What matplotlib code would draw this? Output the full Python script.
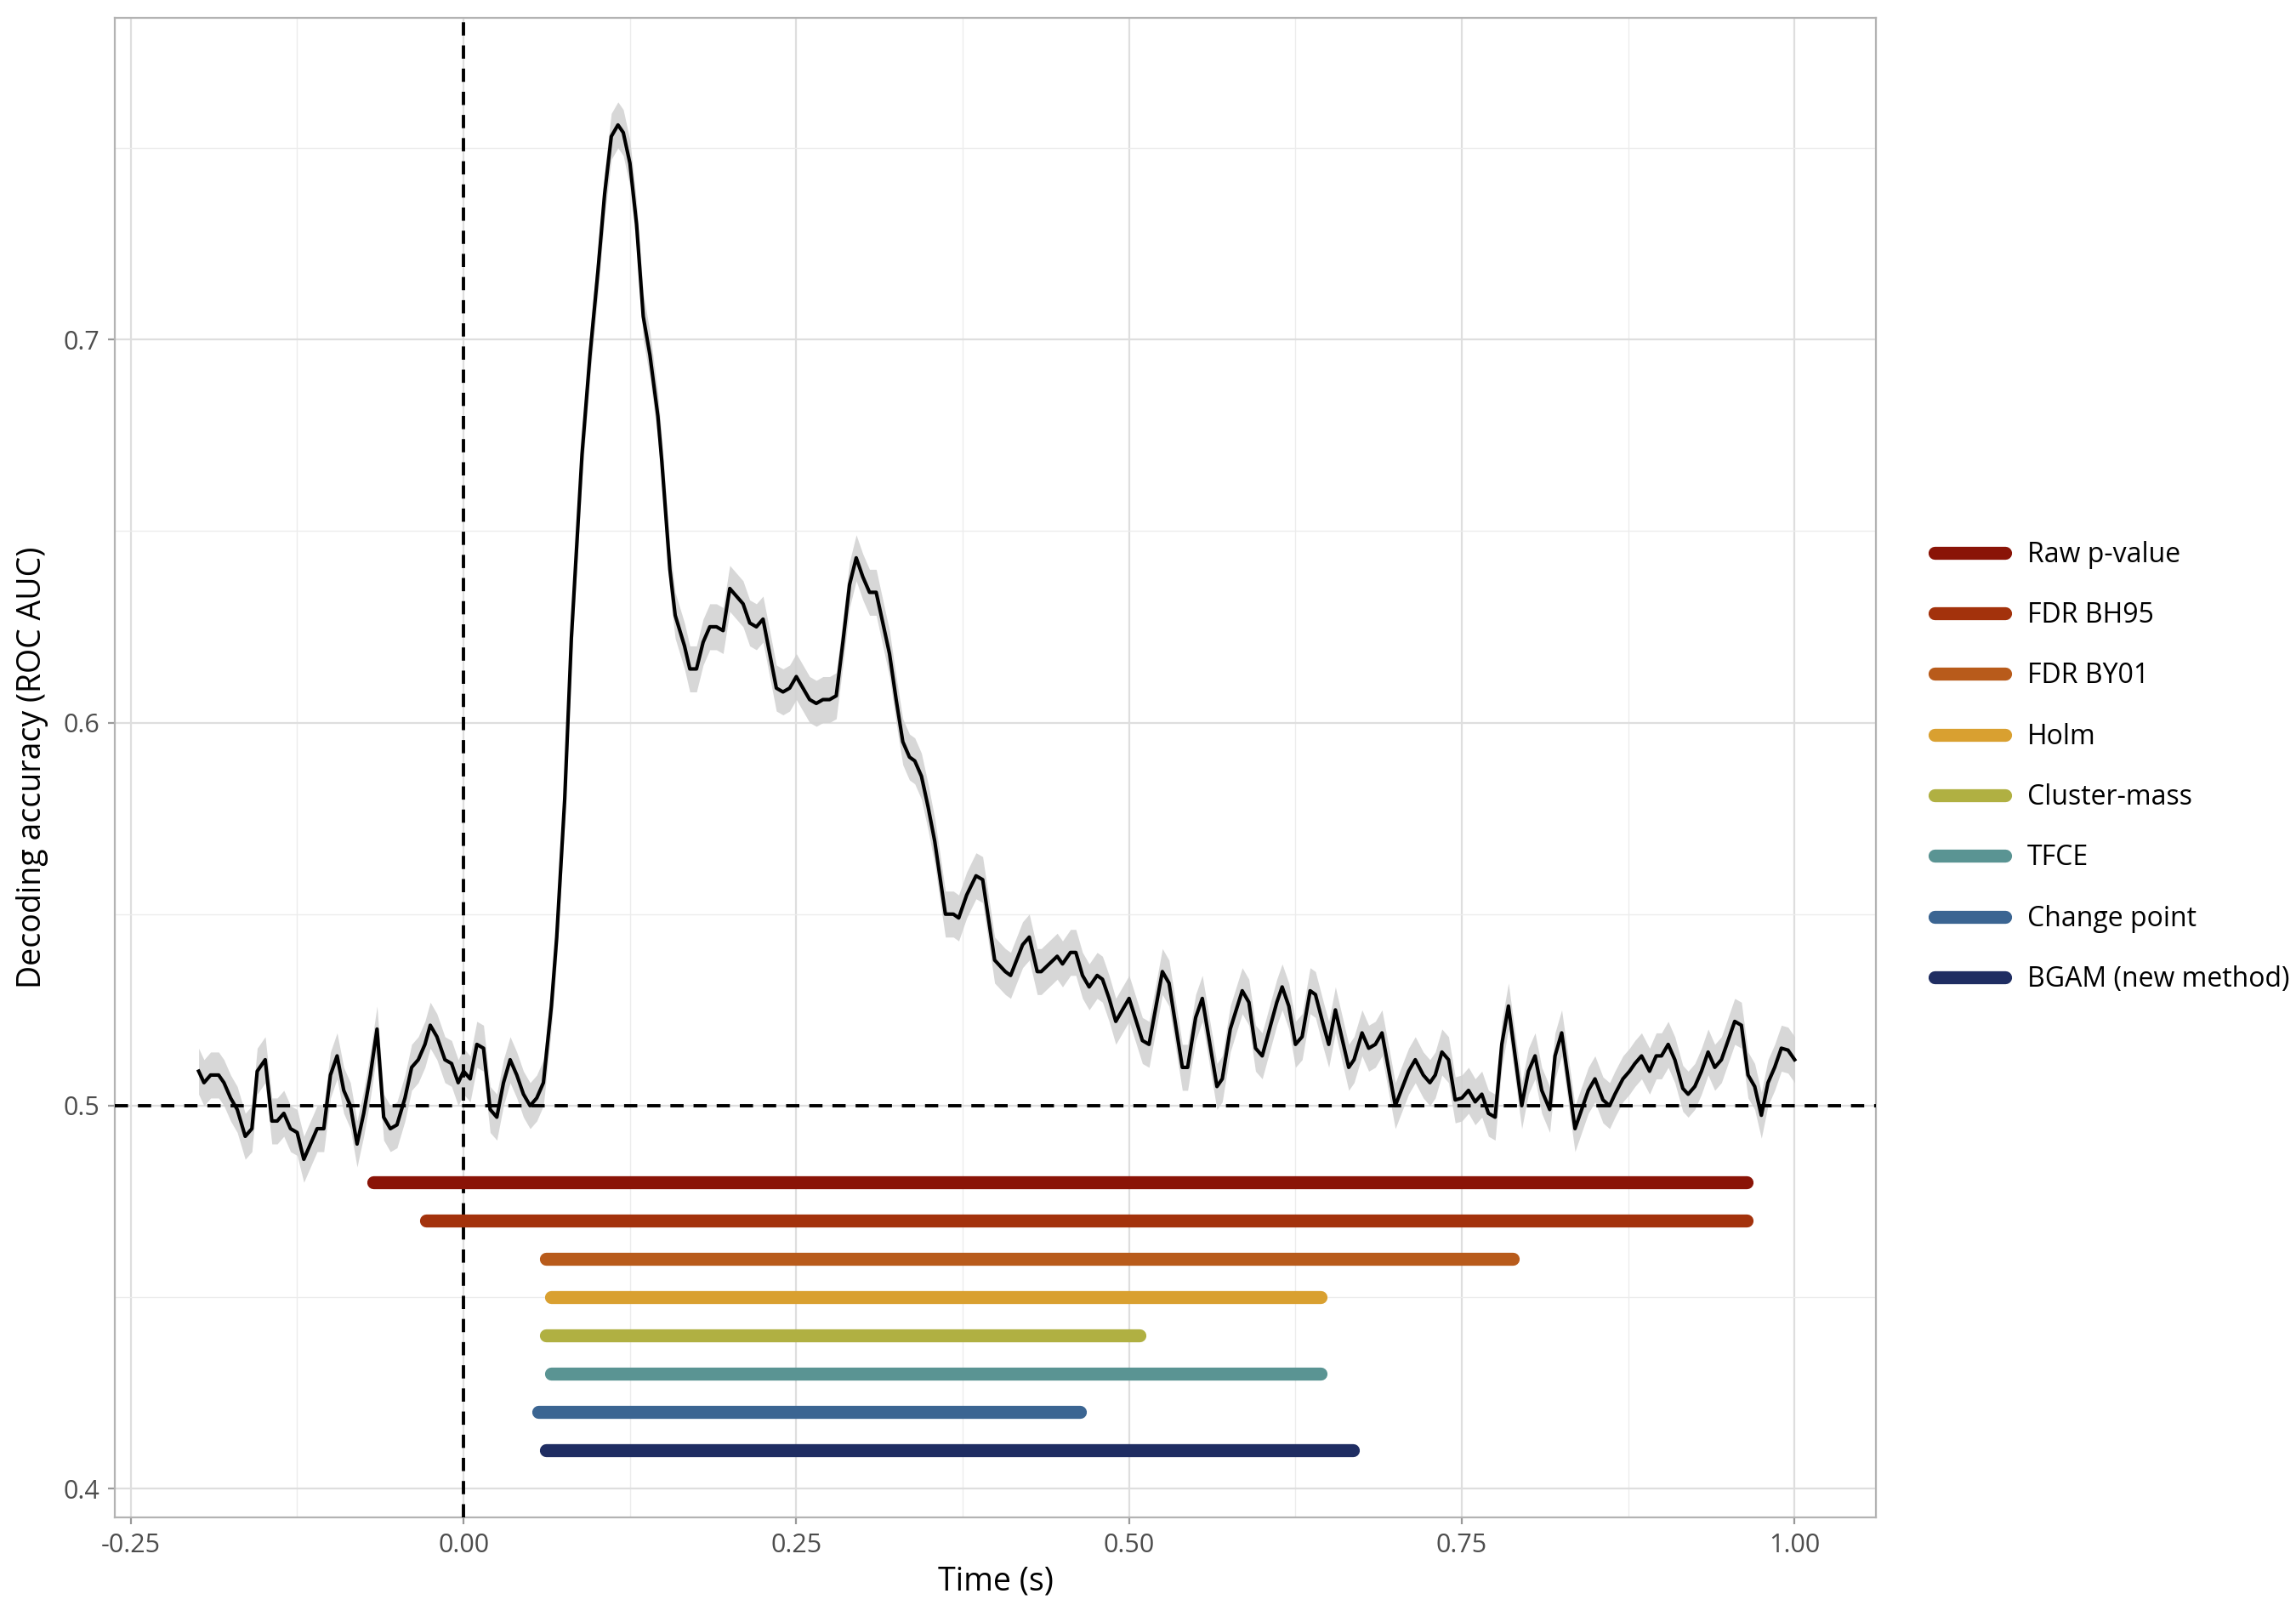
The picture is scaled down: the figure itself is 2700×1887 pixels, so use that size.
import matplotlib
matplotlib.use("Agg")
import matplotlib.pyplot as plt
from matplotlib.lines import Line2D
import numpy as np

plt.rcParams['font.family'] = ['Open Sans', 'DejaVu Sans']

time = [-0.199,-0.195,-0.190,-0.184,-0.180,-0.175,-0.170,-0.164,-0.159,-0.155,-0.149,-0.144,-0.140,-0.135,-0.130,-0.125,-0.120,-0.115,-0.110,-0.105,
        -0.100,-0.095,-0.090,-0.085,-0.080,-0.075,-0.070,-0.065,-0.060,-0.055,-0.050,-0.044,-0.039,-0.034,-0.029,-0.025,-0.020,-0.014,-0.009,-0.004,
        0.000,0.005,0.010,0.015,0.020,0.025,0.030,0.035,0.040,0.045,0.050,0.055,0.060,0.066,0.070,0.076,0.081,0.089,0.095,0.101,
        0.106,0.111,0.116,0.120,0.125,0.130,0.135,0.140,0.146,0.149,0.155,0.159,0.166,0.170,0.175,0.180,0.185,0.190,0.195,0.200,
        0.205,0.210,0.215,0.220,0.225,0.230,0.235,0.240,0.245,0.250,0.255,0.260,0.265,0.270,0.275,0.280,0.285,0.290,0.295,0.300,
        0.305,0.310,0.315,0.320,0.325,0.330,0.335,0.339,0.344,0.349,0.354,0.362,0.368,0.372,0.378,0.385,0.390,0.399,0.407,0.411,
        0.420,0.425,0.431,0.434,0.446,0.450,0.456,0.460,0.465,0.470,0.476,0.480,0.485,0.490,0.500,0.510,0.515,0.525,0.530,0.540,
        0.544,0.550,0.555,0.566,0.570,0.576,0.585,0.590,0.595,0.600,0.611,0.615,0.620,0.625,0.630,0.636,0.640,0.646,0.650,0.655,
        0.665,0.669,0.675,0.680,0.685,0.690,0.700,0.710,0.715,0.721,0.726,0.730,0.735,0.740,0.745,0.750,0.755,0.760,0.765,0.770,
        0.775,0.780,0.785,0.795,0.800,0.805,0.810,0.816,0.820,0.825,0.835,0.845,0.850,0.856,0.861,0.865,0.871,0.876,0.880,0.885,
        0.891,0.896,0.900,0.905,0.910,0.916,0.920,0.925,0.930,0.935,0.940,0.945,0.955,0.960,0.965,0.970,0.975,0.980,0.985,0.990,
        0.995,1.000]
accuracy = [0.509,0.506,0.508,0.508,0.506,0.502,0.499,0.492,0.494,0.509,0.512,0.496,0.496,0.498,0.494,0.493,0.486,0.490,0.494,0.494,
            0.508,0.513,0.504,0.500,0.490,0.498,0.508,0.520,0.497,0.494,0.495,0.502,0.510,0.512,0.516,0.521,0.518,0.512,0.511,0.506,
            0.509,0.507,0.516,0.515,0.499,0.497,0.506,0.512,0.508,0.503,0.500,0.502,0.506,0.526,0.544,0.580,0.622,0.670,0.696,0.718,
            0.738,0.753,0.756,0.754,0.746,0.730,0.706,0.696,0.680,0.668,0.640,0.628,0.620,0.614,0.614,0.621,0.625,0.625,0.624,0.635,
            0.633,0.631,0.626,0.625,0.627,0.618,0.609,0.608,0.609,0.612,0.609,0.606,0.605,0.606,0.606,0.607,0.621,0.636,0.643,0.638,
            0.634,0.634,0.626,0.618,0.606,0.595,0.591,0.590,0.586,0.578,0.569,0.550,0.550,0.549,0.555,0.560,0.559,0.538,0.535,0.534,
            0.542,0.544,0.535,0.535,0.539,0.537,0.540,0.540,0.534,0.531,0.534,0.533,0.528,0.522,0.528,0.517,0.516,0.535,0.532,0.510,
            0.510,0.523,0.528,0.505,0.507,0.520,0.530,0.527,0.515,0.513,0.527,0.531,0.526,0.516,0.518,0.530,0.529,0.521,0.516,0.525,
            0.510,0.512,0.519,0.515,0.516,0.519,0.500,0.509,0.512,0.508,0.506,0.508,0.514,0.512,0.5015,0.502,0.504,0.501,0.503,0.498,
            0.497,0.516,0.526,0.500,0.509,0.513,0.504,0.499,0.513,0.519,0.494,0.504,0.507,0.5015,0.500,0.503,0.507,0.509,0.511,0.513,
            0.509,0.513,0.513,0.516,0.512,0.5045,0.503,0.505,0.509,0.514,0.510,0.512,0.522,0.521,0.508,0.505,0.4975,0.506,0.510,0.515,
            0.5145,0.512]
se = 0.006

methods = ["Raw p-value", "FDR BH95", "FDR BY01", "Holm", "Cluster-mass", "TFCE", "Change point", "BGAM (new method)"]
onsets = [-0.068, -0.028, 0.062, 0.066, 0.062, 0.066, 0.056, 0.062]
offsets = [0.964, 0.964, 0.788, 0.644, 0.508, 0.644, 0.463, 0.668]
bar_levels = [0.48, 0.47, 0.46, 0.45, 0.44, 0.43, 0.42, 0.41]
colors = ["#8A1407", "#A3320C", "#B85B1B", "#D9A030", "#B0B042", "#5A9493", "#3B6592", "#1F2D62"]

xticks = [-0.25, 0.0, 0.25, 0.50, 0.75, 1.00]
xticklabels = ["-0.25", "0.00", "0.25", "0.50", "0.75", "1.00"]
yticks = [0.4, 0.5, 0.6, 0.7]
yticklabels = ["0.4", "0.5", "0.6", "0.7"]

fig = plt.figure(figsize=(13.5, 9.435), dpi=200)
ax = fig.add_axes([0.050, 0.0545, 0.767, 0.9345])
t = np.array(time); a = np.array(accuracy)
ax.fill_between(t, a - se, a + se, color="#d0d0d0", lw=0, alpha=0.85, zorder=2)
ax.plot(t, a, color="black", lw=1.5, zorder=3)
ax.axhline(0.5, color="black", ls=(0, (4, 3)), lw=1.4, zorder=4)
ax.axvline(0.0, color="black", ls=(0, (4, 3)), lw=1.4, zorder=4)
for m, s, e, lv, c in zip(methods, onsets, offsets, bar_levels, colors):
    ax.plot([s, e], [lv, lv], color=c, lw=5.5, solid_capstyle="round", zorder=5)

ax.set_xlim(-0.262, 1.061)
ax.set_ylim(0.3925, 0.784)
ax.set_xticks(xticks); ax.set_xticklabels(xticklabels)
ax.set_yticks(yticks); ax.set_yticklabels(yticklabels)
ax.set_xticks([-0.125, 0.125, 0.375, 0.625, 0.875], minor=True)
ax.set_yticks([0.45, 0.55, 0.65, 0.75], minor=True)
ax.grid(which="major", color="#dedede", lw=0.8, zorder=0)
ax.grid(which="minor", color="#ececec", lw=0.5, zorder=0)
ax.set_axisbelow(True)
ax.tick_params(which="major", colors="#4d4d4d", labelsize=11, length=3, color="#999999")
ax.tick_params(which="minor", length=0)
for sp in ax.spines.values():
    sp.set_color("#b3b3b3"); sp.set_linewidth(0.8)
ax.set_xlabel("Time (s)", fontsize=13.5, labelpad=3)
ax.set_ylabel("Decoding accuracy (ROC AUC)", fontsize=13.5, labelpad=6)

handles = [Line2D([0], [0], color=c, lw=5.5, solid_capstyle="round") for c in colors]
fig.legend(handles, methods, loc="center left", bbox_to_anchor=(0.832, 0.522), frameon=False,
           fontsize=11.5, handlelength=2.6, labelspacing=1.2, handletextpad=0.8)
fig.savefig("out.png", dpi=200)
